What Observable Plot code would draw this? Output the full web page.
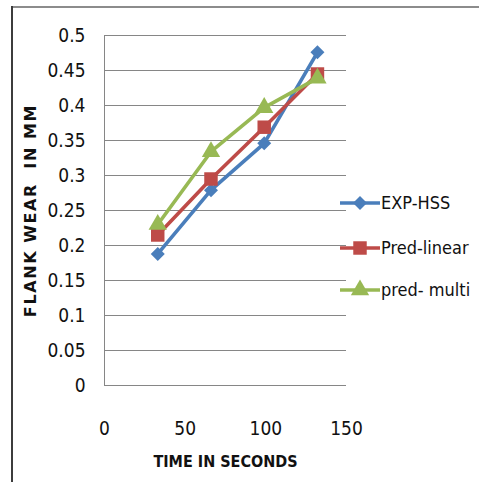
<!DOCTYPE html>
<html>
<head>
<meta charset="utf-8">
<script src="https://cdn.jsdelivr.net/npm/d3@7"></script>
<script src="https://cdn.jsdelivr.net/npm/@observablehq/plot@0.6"></script>
<style>
  html, body { margin: 0; padding: 0; background: #fff; }
  #wrap { position: relative; width: 479px; height: 482px; overflow: hidden; }
  #wrap svg { display: block; }
</style>
</head>
<body>
<div id="wrap"></div>
<script>
// ---- data ----
const times = [33, 66, 99, 132];
const seriesNames = ["EXP-HSS", "Pred-linear", "pred- multi"];
const expHss = [0.188, 0.279, 0.346, 0.476];
const predLinear = [0.215, 0.295, 0.369, 0.445];
const predMulti = [0.230, 0.334, 0.397, 0.439];
const xTicks = [0, 50, 100, 150];
const yTicks = [0, 0.05, 0.1, 0.15, 0.2, 0.25, 0.3, 0.35, 0.4, 0.45, 0.5];
const yTickLabels = ["0", "0.05", "0.1", "0.15", "0.2", "0.25", "0.3", "0.35", "0.4", "0.45", "0.5"];
const xTitle = "TIME IN SECONDS";
const yTitle = "FLANK WEAR  IN MM";

// ---- styles ----
const colors = ["#4a7ebb", "#be4b48", "#98b954"];
const symbols = ["diamond2", "square", "triangle"];
const symbolR = [6.3, 7.6, 6.8];
const d3Symbols = [d3.symbolDiamond2, d3.symbolSquare, d3.symbolTriangle];
const narrow = "'Liberation Sans Narrow', 'DejaVu Sans Condensed', 'Liberation Sans', sans-serif";

const valuesBySeries = [expHss, predLinear, predMulti];
const rows = seriesNames.flatMap((s, i) => times.map((t, j) => ({series: s, time: t, wear: valuesBySeries[i][j]})));

const seriesMarks = seriesNames.flatMap((s, i) => {
  const d = rows.filter(r => r.series === s);
  return [
    Plot.line(d, {x: "time", y: "wear", stroke: colors[i], strokeWidth: 3.6}),
    Plot.dot(d, {x: "time", y: "wear", fill: colors[i], stroke: "none", symbol: () => symbols[i], r: symbolR[i]})
  ];
});

const chart = Plot.plot({
  width: 479,
  height: 482,
  marginLeft: 104,
  marginRight: 133,
  marginTop: 35,
  marginBottom: 97,
  x: {domain: [0, 150], label: null},
  y: {domain: [0, 0.5], label: null},
  style: {fontFamily: narrow, fontSize: "19px", color: "#000", background: "transparent", overflow: "visible"},
  marks: [
    Plot.ruleY(yTicks, {stroke: "#868686", strokeWidth: 1}),
    Plot.ruleX([0], {stroke: "#868686", strokeWidth: 1}),
    Plot.axisY({ticks: yTicks, tickSize: 0, tickPadding: 19, tickFormat: (d) => yTickLabels[yTicks.indexOf(d)], fontSize: 19, fill: "#111"}),
    Plot.axisX({ticks: xTicks, tickSize: 0, tickPadding: 36, fontSize: 19, fill: "#111"}),
    Plot.text([yTitle], {frameAnchor: "left", textAnchor: "middle", rotate: -90, dx: -74, fontSize: 16, fontWeight: "bold",
      fontFamily: "'DejaVu Sans', sans-serif", fill: "#111"}),
    Plot.text([xTitle], {frameAnchor: "bottom", dy: 81, fontSize: 16, fontWeight: "bold", fill: "#111"}),
    ...seriesMarks
  ]
});

// letter spacing for y title
d3.select(chart).selectAll("text").filter(function() { return this.textContent === yTitle; })
  .style("letter-spacing", "1.6px");

// ---- image frame (top and left edges) ----
const fr = d3.select(chart).append("g").attr("class", "frame");
fr.append("line").attr("x1", 11).attr("x2", 479).attr("y1", 7).attr("y2", 7)
  .attr("stroke", "#8c8c8c").attr("stroke-width", 2);
fr.append("line").attr("x1", 12).attr("x2", 12).attr("y1", 6).attr("y2", 482)
  .attr("stroke", "#3c3c3c").attr("stroke-width", 2);

// ---- legend ----
const lg = d3.select(chart).append("g").attr("class", "legend").attr("text-anchor", "start");
const legendY = [203, 248, 290];
seriesNames.forEach((s, i) => {
  const g = lg.append("g").attr("transform", `translate(340,${legendY[i]})`);
  g.append("line").attr("x1", 0).attr("x2", 40).attr("y1", 0).attr("y2", 0)
    .attr("stroke", colors[i]).attr("stroke-width", 3.6);
  const size = Math.PI * symbolR[i] * symbolR[i];
  g.append("path").attr("d", d3.symbol(d3Symbols[i], size)()).attr("transform", "translate(20,0)").attr("fill", colors[i]);
  g.append("text").attr("x", 41).attr("y", 0).attr("dy", "0.35em").attr("font-size", 18)
    .attr("text-anchor", "start").attr("font-family", narrow).attr("fill", "#111").text(s);
});

document.getElementById("wrap").appendChild(chart);
</script>
</body>
</html>
